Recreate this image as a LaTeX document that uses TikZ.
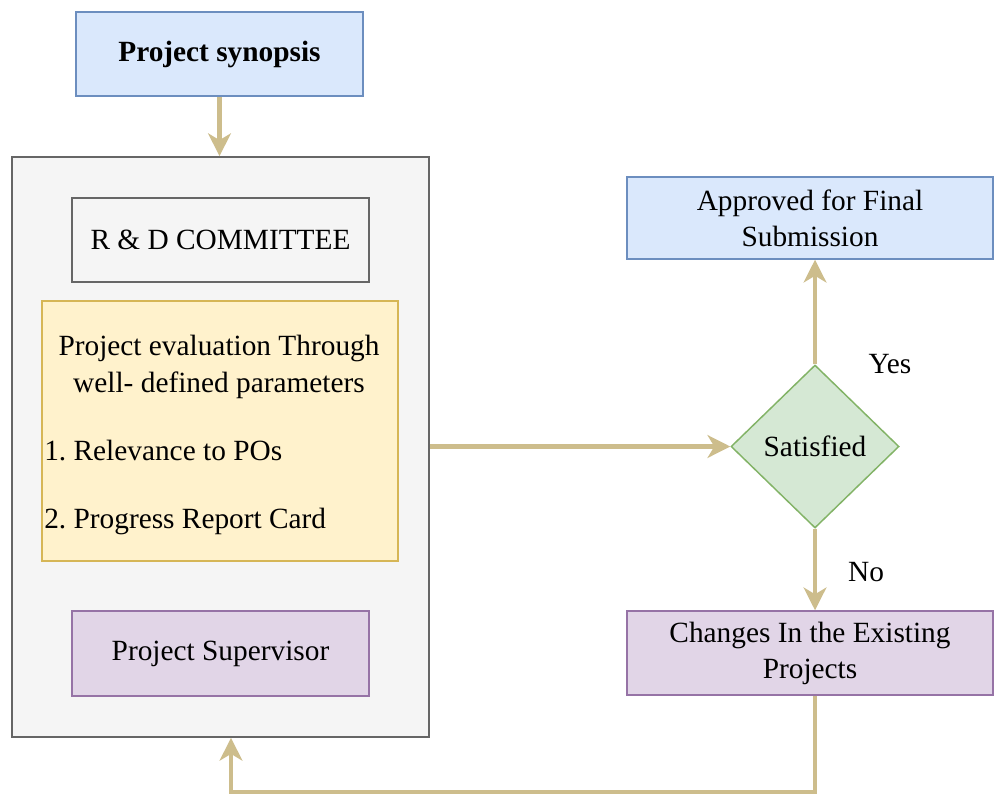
\documentclass[tikz,border=0pt]{standalone}
\usepackage{fontspec}
\setmainfont{Liberation Serif}
\usetikzlibrary{shapes.geometric,arrows.meta,calc}
\frenchspacing
\definecolor{blueF}{HTML}{DAE8FC}
\definecolor{blueD}{HTML}{6C8EBF}
\definecolor{grayF}{HTML}{F5F5F5}
\definecolor{grayD}{HTML}{666666}
\definecolor{yelF}{HTML}{FFF2CC}
\definecolor{yelD}{HTML}{D6B656}
\definecolor{purF}{HTML}{E1D5E7}
\definecolor{purD}{HTML}{9673A6}
\definecolor{grnF}{HTML}{D5E8D4}
\definecolor{grnD}{HTML}{82B366}
\definecolor{arr}{RGB}{205,189,140}
\begin{document}
\begin{tikzpicture}[x=0.75pt,y=-0.75pt,
  every node/.style={font=\fontsize{22}{27}\selectfont\frenchspacing, inner sep=0pt, align=center},
  box/.style={rectangle, line width=1.1pt},
  bluebox/.style={box, fill=blueF, draw=blueD},
  graybox/.style={box, fill=grayF, draw=grayD},
  yelbox/.style={box, fill=yelF, draw=yelD},
  purbox/.style={box, fill=purF, draw=purD},
  decision/.style={diamond, fill=grnF, draw=grnD, line width=1.1pt},
  flow/.style={draw=arr, line width=3.5pt, -{Stealth[length=17pt,width=17pt,inset=5pt]}},
  lbl/.style={font=\fontsize{22}{27}\selectfont}
]
\useasboundingbox (0,0) rectangle (994,796);
\fill[white] (0,0) rectangle (994,796);

\node[bluebox, minimum width=287*0.75pt, minimum height=84*0.75pt] (syn) at (219.5,54) {\bfseries Project synopsis};

\node[graybox, line width=1.3pt, minimum width=417*0.75pt, minimum height=580*0.75pt] (outer) at (220.5,447) {};

\node[graybox, minimum width=297*0.75pt, minimum height=84*0.75pt] (rd) at (220.5,240) {R \& D COMMITTEE};

\node[yelbox, minimum width=356*0.75pt, minimum height=260*0.75pt] (eval) at (220,431) {};
\node[anchor=base] (e1) at (219,355) {Project evaluation Through};
\node[anchor=base] (e2) at (219,392) {well- defined parameters};
\node[anchor=base west] (e3) at (44,460) {1. Relevance to POs};
\node[anchor=base west] (e4) at (44,528) {2. Progress Report Card};

\node[purbox, minimum width=297*0.75pt, minimum height=85*0.75pt] (sup) at (220.5,653.5) {Project Supervisor};

\node[bluebox, minimum width=366*0.75pt, minimum height=82*0.75pt] (appr) at (810,218) {Approved for Final\\Submission};

\node[decision, minimum width=168*0.75pt, minimum height=163*0.75pt] (sat) at (815,446.5) {Satisfied};

\node[purbox, minimum width=366*0.75pt, minimum height=84*0.75pt] (chg) at (810,653) {Changes In the Existing\\Projects};

\node[lbl] (yes) at (890,364) {Yes};
\node[lbl] (no) at (866,572) {No};

\draw[flow] (syn.south) -- (syn.south |- outer.north);
\draw[flow] (sat.west -| outer.east) -- (sat.west);
\draw[flow] (sat.north) -- (sat.north |- appr.south);
\draw[flow] (sat.south) -- (sat.south |- chg.north);
\coordinate (fb) at (231,792);
\draw[flow] (sat.south |- chg.south) |- (fb) -- (fb |- outer.south);
\end{tikzpicture}
\end{document}
